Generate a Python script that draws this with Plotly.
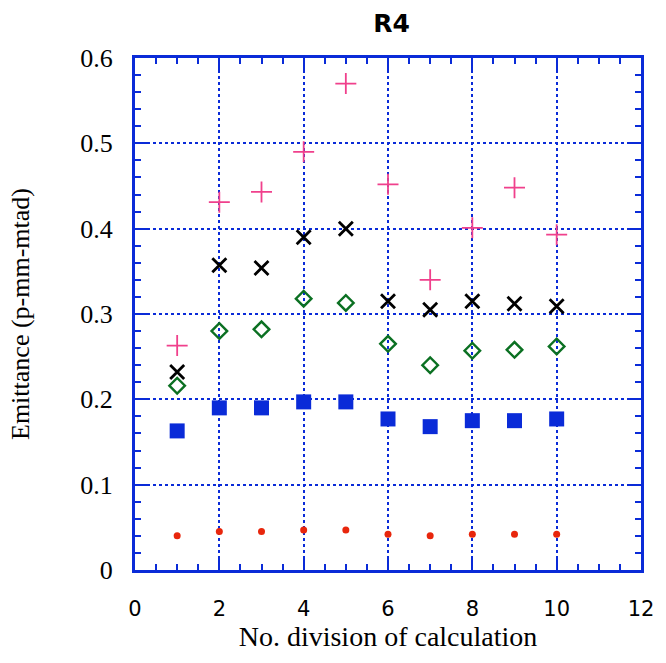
import plotly.graph_objects as go

x_vals = [1, 2, 3, 4, 5, 6, 7, 8, 9, 10]
plus_vals = [0.263, 0.431, 0.443, 0.490, 0.570, 0.452, 0.340, 0.401, 0.448, 0.393]
cross_vals = [0.232, 0.357, 0.354, 0.390, 0.400, 0.315, 0.305, 0.315, 0.312, 0.309]
diamond_vals = [0.216, 0.280, 0.282, 0.318, 0.313, 0.265, 0.240, 0.257, 0.258, 0.262]
square_vals = [0.163, 0.190, 0.190, 0.197, 0.197, 0.177, 0.168, 0.175, 0.175, 0.177]
dot_vals = [0.040, 0.045, 0.045, 0.047, 0.047, 0.042, 0.040, 0.042, 0.042, 0.042]

x_ticks = [0, 2, 4, 6, 8, 10, 12]
y_ticks = [0, 0.1, 0.2, 0.3, 0.4, 0.5, 0.6]
y_tick_text = ["0", "0.1", "0.2", "0.3", "0.4", "0.5", "0.6"]

blue = "#0a2bd8"
serif = "Liberation Serif, Times New Roman, serif"

fig = go.Figure()
fig.add_trace(go.Scatter(x=x_vals, y=plus_vals, mode="markers",
                         marker=dict(symbol="cross-thin", size=15, line=dict(color="#f0408c", width=1.8))))
fig.add_trace(go.Scatter(x=x_vals, y=cross_vals, mode="markers",
                         marker=dict(symbol="x-thin", size=14, line=dict(color="black", width=2.8))))
fig.add_trace(go.Scatter(x=x_vals, y=diamond_vals, mode="markers",
                         marker=dict(symbol="diamond-open", size=12, color="#0b7022", line=dict(color="#0b7022", width=2.4))))
fig.add_trace(go.Scatter(x=x_vals, y=square_vals, mode="markers",
                         marker=dict(symbol="square", size=15, color="#0a2bd8", line=dict(width=0))))
fig.add_trace(go.Scatter(x=x_vals, y=dot_vals, mode="markers",
                         marker=dict(symbol="circle", size=7, color="#e8260c", line=dict(width=0))))

fig.update_layout(
    width=666, height=663,
    margin=dict(l=135, r=18, t=58, b=93),
    paper_bgcolor="white", plot_bgcolor="white",
    showlegend=False,
    title=dict(text="<b>R4</b>", x=(135 + 648) / 2 / 666, xanchor="center", y=1 - 23 / 663, yanchor="middle",
               font=dict(family="DejaVu Sans", size=25, color="black")),
    xaxis=dict(range=[0, 12], tickvals=x_ticks, ticks="inside", ticklen=12, tickwidth=2, tickcolor=blue,
               minor=dict(dtick=0.5, ticks="inside", ticklen=6, tickwidth=2, tickcolor=blue, showgrid=False),
               showline=True, linecolor=blue, linewidth=3, mirror="allticks",
               showgrid=True, gridcolor=blue, griddash="dot", gridwidth=1.5, zeroline=False,
               ticklabelstandoff=18,
               tickfont=dict(family="DejaVu Sans", size=21, color="black"),
               title=dict(text="No. division of calculation", font=dict(family=serif, size=28, color="black"), standoff=6)),
    yaxis=dict(range=[0, 0.6], tickvals=y_ticks, ticktext=y_tick_text, ticks="inside", ticklen=12, tickwidth=2, tickcolor=blue,
               minor=dict(dtick=0.02, ticks="inside", ticklen=6, tickwidth=2, tickcolor=blue, showgrid=False),
               showline=True, linecolor=blue, linewidth=3, mirror="allticks",
               showgrid=True, gridcolor=blue, griddash="dot", gridwidth=1.5, zeroline=False,
               ticklabelstandoff=14,
               tickfont=dict(family=serif, size=26, color="black"),
               title=dict(text="Emittance (p-mm-mtad)", font=dict(family=serif, size=26, color="black"), standoff=44)),
)

fig.write_html("out.html")
